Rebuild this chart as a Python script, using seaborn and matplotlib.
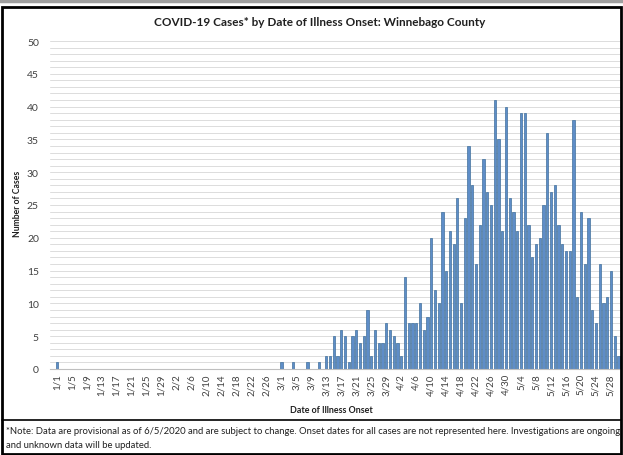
import matplotlib
matplotlib.use("Agg")
import matplotlib.pyplot as plt
import seaborn as sns
import pandas as pd
from matplotlib.patches import Rectangle
from matplotlib.lines import Line2D

# ---- data (cases by date of illness onset, 2020) ----
cases_jan = [1, 0, 0, 0, 0, 0, 0, 0, 0, 0, 0, 0, 0, 0, 0, 0,
             0, 0, 0, 0, 0, 0, 0, 0, 0, 0, 0, 0, 0, 0, 0]
cases_feb = [0, 0, 0, 0, 0, 0, 0, 0, 0, 0, 0, 0, 0, 0, 0,
             0, 0, 0, 0, 0, 0, 0, 0, 0, 0, 0, 0, 0, 0]
cases_mar = [1, 0, 0, 1, 0, 0, 0, 1, 0, 0, 1, 0, 2, 2, 5, 2,
             6, 5, 1, 5, 6, 4, 5, 9, 2, 6, 4, 4, 7, 6, 5]
cases_apr = [4, 2, 14, 7, 7, 7, 10, 6, 8, 20, 12, 10, 24, 15, 21,
             19, 26, 10, 23, 34, 28, 16, 22, 32, 27, 25, 41, 35, 21, 40]
cases_may = [26, 24, 21, 39, 39, 22, 17, 19, 20, 25, 36, 27, 28, 22, 19,
             18, 18, 38, 11, 24, 16, 23, 9, 7, 16, 10, 11, 15, 5, 2]
tick_labels = ['1/1', '1/5', '1/9', '1/13', '1/17', '1/21', '1/25', '1/29',
               '2/2', '2/6', '2/10', '2/14', '2/18', '2/22', '2/26', '3/1',
               '3/5', '3/9', '3/13', '3/17', '3/21', '3/25', '3/29', '4/2',
               '4/6', '4/10', '4/14', '4/18', '4/22', '4/26', '4/30', '5/4',
               '5/8', '5/12', '5/16', '5/20', '5/24', '5/28']

cases = cases_jan + cases_feb + cases_mar + cases_apr + cases_may
dates = pd.date_range("2020-01-01", periods=len(cases), freq="D")
date_labels = [f"{d.month}/{d.day}" for d in dates]
df = pd.DataFrame({"date": date_labels, "cases": cases})

sns.set_theme(style="white")
plt.rcParams['font.family'] = ['Lato', 'DejaVu Sans']

W, H = 623, 456
fig = plt.figure(figsize=(W / 100, H / 100), dpi=100)
fig.patch.set_facecolor("white")

def fx(x):
    return x / W

def fy(y):
    return 1 - y / H

ax = fig.add_axes([fx(50), fy(370), (621 - 50) / W, (370 - 42) / H])

sns.barplot(data=df, x="date", y="cases", color="#5E8DC8", saturation=1,
            width=0.6, edgecolor="#41719C", linewidth=0.5, ax=ax)

ax.set_ylim(0, 50)
ax.set_xlim(-1.8, len(cases) - 0.3)
ax.set_yticks(range(0, 51, 5))
ax.set_yticks(range(0, 51, 1), minor=True)
ax.yaxis.grid(True, which="both", color="#DCDCDC", linewidth=0.7)
ax.set_axisbelow(True)

tick_pos = [date_labels.index(t) for t in tick_labels]
ax.set_xticks(tick_pos)
ax.set_xticklabels(tick_labels, rotation=90, fontsize=7, color="#404040")
ax.tick_params(axis="y", labelsize=7.5, labelcolor="#404040", length=0, pad=8)
ax.tick_params(axis="x", length=0, pad=3)
ax.tick_params(axis="y", which="minor", length=0)

for s in ["top", "right", "left"]:
    ax.spines[s].set_visible(False)
ax.spines["bottom"].set_color("#BFBFBF")
ax.spines["bottom"].set_linewidth(0.8)

ax.set_xlabel("")
ax.set_ylabel("")

fig.text(fx(320), fy(22), "COVID-19 Cases* by Date of Illness Onset: Winnebago County",
         ha="center", va="center", fontsize=8.5, fontweight="bold", color="#202020")
fig.text(fx(18), fy(204), "Number of Cases", rotation=90, ha="center", va="center",
         fontsize=6.2, fontweight="bold", color="#202020")
fig.text(fx(331), fy(411), "Date of Illness Onset", ha="center", va="center",
         fontsize=6.4, fontweight="bold", color="#202020")
fig.text(fx(6), fy(432), "*Note: Data are provisional as of 6/5/2020 and are subject to change. "
         "Onset dates for all cases are not represented here. Investigations are ongoing",
         ha="left", va="center", fontsize=6.85, color="#202020")
fig.text(fx(6), fy(446), "and unknown data will be updated.",
         ha="left", va="center", fontsize=6.85, color="#202020")

# frames
fig.add_artist(Rectangle((fx(2), fy(455)), (621 - 2) / W, (455 - 8) / H,
                         transform=fig.transFigure, fill=False,
                         edgecolor="black", linewidth=2))
fig.add_artist(Line2D([fx(2), fx(621)], [fy(421), fy(421)],
                      transform=fig.transFigure, color="black", linewidth=1.2))
fig.add_artist(Line2D([0, 1], [fy(1.5), fy(1.5)],
                      transform=fig.transFigure, color="#A0A0A0", linewidth=2.5))

fig.savefig("out.png", dpi=100)
